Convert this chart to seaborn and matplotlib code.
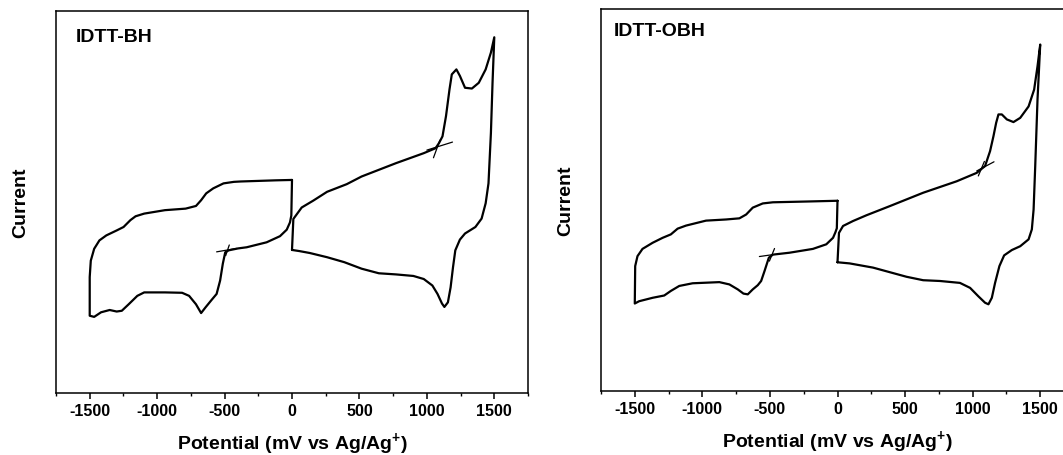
import matplotlib
matplotlib.use("Agg")
import numpy as np
import pandas as pd
import seaborn as sns
import matplotlib.pyplot as plt
from matplotlib.ticker import MultipleLocator

# ---------------- data (potential in mV, current in arbitrary units 0-100) ----------------
# IDTT-BH, negative scan loop
bh_neg_v = [0, -120, -380, -431, -508, -584, -636, -674, -712, -789, -942, -1096, -1160, -1198,
            -1249, -1300, -1377, -1428, -1467, -1492, -1500, -1500,
            -1467, -1416, -1352, -1300, -1262, -1211, -1147, -1096, -942, -815, -763, -712, -674,
            -641, -597, -559, -533, -513, -495, -469, -400, -336, -188, -89, -39, -15, -5, 0]
bh_neg_i = [55.7, 55.6, 55.3, 55.2, 54.8, 53.5, 52.2, 50.4, 48.9, 48.2, 47.8, 46.9, 46.2, 45.2,
            43.4, 42.5, 41.2, 39.9, 37.7, 34.6, 30.3, 20.2,
            19.9, 21.1, 21.7, 21.3, 21.5, 23.2, 25.4, 26.3, 26.3, 26.2, 25.4, 23.2, 20.9,
            22.4, 24.3, 25.9, 29.4, 33.8, 36.8, 37.3, 37.8, 38.1, 39.4, 41.0, 42.7, 44.6, 46.4, 55.7]
# IDTT-BH, positive scan loop
bh_pos_v = [0, 55, 132, 260, 388, 516, 644, 772, 900, 977, 1041, 1079, 1112, 1130, 1156, 1176,
            1194, 1211, 1245, 1283, 1360, 1406, 1436, 1457, 1475, 1487, 1500,
            1475, 1436, 1385, 1334, 1283, 1245, 1219, 1185, 1168, 1142, 1116, 1091, 1065, 977,
            772, 516, 406, 260, 158, 72, 10, 0]
bh_pos_i = [37.4, 37.1, 36.6, 35.5, 34.2, 32.5, 31.3, 31.0, 30.6, 29.8, 28.1, 25.9, 23.4, 22.5, 23.7, 27.6,
            32.9, 37.3, 40.1, 41.7, 43.4, 45.6, 49.6, 54.8, 68.0, 81.1, 93.0,
            89.0, 84.6, 81.1, 79.6, 79.8, 82.9, 84.6, 83.3, 79.4, 72.4, 67.1, 65.4, 64.0, 62.7,
            60.1, 56.6, 54.6, 52.6, 50.3, 48.5, 45.5, 37.4]
# IDTT-BH onset tangents
bh_tan_neg_flat_v = [-559, -411]
bh_tan_neg_flat_i = [36.9, 37.8]
bh_tan_neg_steep_v = [-492, -465]
bh_tan_neg_steep_i = [35.9, 38.7]
bh_tan_pos_flat_v = [1000, 1190]
bh_tan_pos_flat_i = [63.5, 65.6]
bh_tan_pos_steep_v = [1049, 1097]
bh_tan_pos_steep_i = [61.5, 66.1]

# IDTT-OBH, negative scan loop
obh_neg_v = [0, -231, -478, -553, -627, -676, -726, -825, -973, -1121, -1183, -1233, -1294, -1368,
             -1443, -1480, -1497, -1500,
             -1468, -1368, -1282, -1233, -1171, -1072, -874, -800, -738, -696, -664, -627, -590,
             -565, -540, -508, -478, -355, -182, -83, -33, -16, -5, 0]
obh_neg_i = [49.8, 49.6, 49.4, 49.1, 48.0, 46.2, 45.2, 44.9, 44.6, 43.3, 42.5, 41.0, 40.1, 38.8,
             37.2, 35.3, 32.7, 22.9,
             23.5, 24.4, 25.0, 26.2, 27.5, 28.2, 28.5, 27.9, 26.6, 25.5, 25.3, 26.6, 27.7,
             28.8, 31.4, 34.9, 35.7, 36.2, 37.2, 38.4, 40.1, 41.5, 42.6, 49.8]
# IDTT-OBH, positive scan loop
obh_pos_v = [0, 90, 263, 387, 511, 634, 758, 906, 981, 1042, 1092, 1117, 1142, 1166, 1198, 1233,
             1290, 1352, 1414, 1438, 1451, 1463, 1480, 1500,
             1480, 1455, 1414, 1352, 1302, 1253, 1216, 1191, 1174, 1154, 1129, 1092, 1030, 882,
             634, 387, 214, 115, 41, 11, 0]
obh_pos_i = [33.7, 33.4, 32.3, 31.1, 29.9, 29.0, 28.8, 28.3, 27.0, 24.8, 23.1, 22.7, 24.4, 28.3, 32.7, 35.5,
             36.9, 37.9, 39.7, 42.3, 47.5, 58.8, 76.3, 90.7,
             85.0, 78.9, 74.5, 71.5, 70.4, 71.1, 72.4, 72.4, 70.2, 66.7, 62.8, 58.9, 57.1, 54.9,
             51.9, 48.4, 46.0, 44.5, 43.2, 41.4, 33.7]
# IDTT-OBH onset tangents
obh_tan_neg_flat_v = [-578, -478]
obh_tan_neg_flat_i = [35.2, 35.7]
obh_tan_neg_steep_v = [-504, -466]
obh_tan_neg_steep_i = [34.0, 37.3]
obh_tan_pos_flat_v = [1030, 1158]
obh_tan_pos_flat_i = [57.6, 60.0]
obh_tan_pos_steep_v = [1042, 1087]
obh_tan_pos_steep_i = [56.3, 60.1]

titles = ["IDTT-BH", "IDTT-OBH"]
xticks = [-1500, -1000, -500, 0, 500, 1000, 1500]
xlabel = "Potential (mV vs Ag/Ag$^{+}$)"
ylabel = "Current"

# ---------------- style ----------------
sns.set_theme(style="ticks")
plt.rcParams['font.family'] = ['Liberation Sans', 'DejaVu Sans']
plt.rcParams['font.weight'] = 'bold'
plt.rcParams['axes.labelweight'] = 'bold'
plt.rcParams['mathtext.fontset'] = 'custom'
plt.rcParams['mathtext.rm'] = 'Liberation Sans:bold'
plt.rcParams['mathtext.bf'] = 'Liberation Sans:bold'
plt.rcParams['mathtext.it'] = 'Liberation Sans:bold'
plt.rcParams['mathtext.default'] = 'bf'

fig = plt.figure(figsize=(10.63, 4.56), dpi=100)
ax1 = fig.add_axes([56 / 1063, (456 - 394) / 456, 472 / 1063, 382.5 / 456])
ax2 = fig.add_axes([601 / 1063, (456 - 392) / 456, 473 / 1063, 382 / 456])

panels = [
    (ax1, [(bh_neg_v, bh_neg_i), (bh_pos_v, bh_pos_i)],
     [(bh_tan_neg_flat_v, bh_tan_neg_flat_i), (bh_tan_neg_steep_v, bh_tan_neg_steep_i),
      (bh_tan_pos_flat_v, bh_tan_pos_flat_i), (bh_tan_pos_steep_v, bh_tan_pos_steep_i)],
     (0.042, 0.932)),
    (ax2, [(obh_neg_v, obh_neg_i), (obh_pos_v, obh_pos_i)],
     [(obh_tan_neg_flat_v, obh_tan_neg_flat_i), (obh_tan_neg_steep_v, obh_tan_neg_steep_i),
      (obh_tan_pos_flat_v, obh_tan_pos_flat_i), (obh_tan_pos_steep_v, obh_tan_pos_steep_i)],
     (0.026, 0.945)),
]

for (ax, loops, tangents, tpos), title in zip(panels, titles):
    for v, i in loops:
        df = pd.DataFrame({"v": v, "i": i})
        sns.lineplot(data=df, x="v", y="i", sort=False, estimator=None, color="black",
                     lw=1.6, ax=ax)
    for v, i in tangents:
        df = pd.DataFrame({"v": v, "i": i})
        sns.lineplot(data=df, x="v", y="i", sort=False, estimator=None, color="black",
                     lw=0.9, ax=ax)
    ax.set_xlim(-1750, 1750)
    ax.set_ylim(0, 100)
    ax.set_xticks(xticks)
    ax.xaxis.set_minor_locator(MultipleLocator(250))
    ax.set_yticks([])
    ax.tick_params(axis='x', which='major', length=4.5, width=1.1, direction='out',
                   pad=3, color='black', labelcolor='black')
    ax.tick_params(axis='x', which='minor', length=2.5, width=1.0, direction='out',
                   color='black')
    ax.set_xticklabels([str(t) for t in xticks], fontsize=11.5, fontweight='bold',
                       color='black')
    for s in ax.spines.values():
        s.set_color('black')
        s.set_linewidth(1.1)
    ax.set_xlabel(xlabel, fontsize=14, fontweight='bold', labelpad=8, color='black')
    ax.set_ylabel(ylabel, fontsize=14, fontweight='bold', labelpad=19, color='black')
    ax.text(tpos[0], tpos[1], title, transform=ax.transAxes, fontsize=14,
            fontweight='bold', ha='left', va='center', color='black')

fig.savefig("out.png", dpi=100)
